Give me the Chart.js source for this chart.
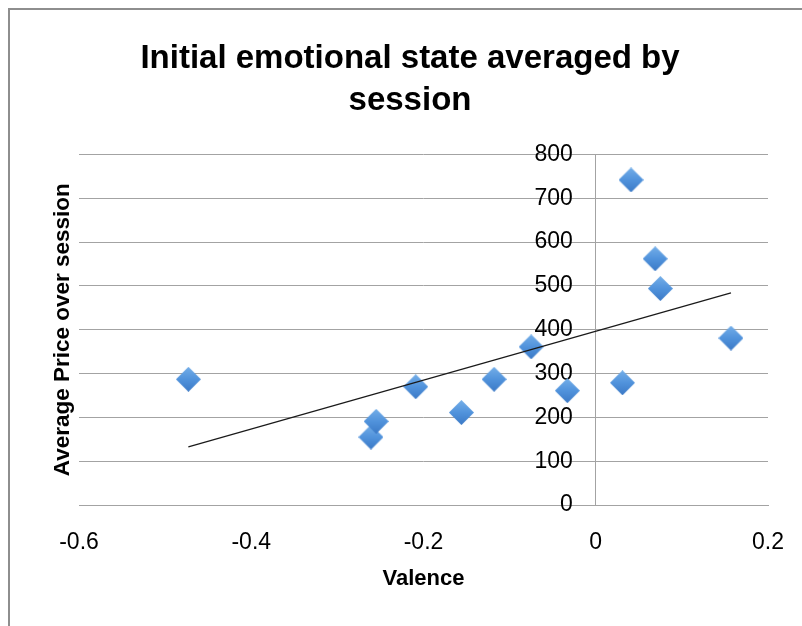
<!DOCTYPE html>
<html>
<head>
<meta charset="utf-8">
<title>Initial emotional state averaged by session</title>
<script src="https://cdn.jsdelivr.net/npm/chart.js@4.4.1/dist/chart.umd.min.js"></script>
<style>
  html, body { margin: 0; padding: 0; background: #fff; overflow: hidden; }
  #wrap { position: relative; width: 802px; height: 626px; }
  #frame {
    position: absolute; left: 8px; top: 8px; width: 900px; height: 700px;
    border-top: 2px solid #8e8e8e; border-left: 2px solid #8e8e8e;
    pointer-events: none;
  }
  canvas { display: block; }
</style>
</head>
<body>
<div id="wrap">
  <canvas id="chart" width="802" height="626"></canvas>
  <div id="frame"></div>
</div>
<script>
// Session averages: initial valence vs. average price over the session
const valence  = [-0.473, -0.261, -0.255, -0.209, -0.156, -0.118, -0.075, -0.033, 0.031, 0.041, 0.069, 0.075, 0.157];
const avgPrice = [287, 155, 191, 270, 211, 287, 361, 261, 279, 742, 562, 494, 381];

// Axis tick values
const valenceTicks = [-0.6, -0.4, -0.2, 0, 0.2];
const priceTicks = [0, 100, 200, 300, 400, 500, 600, 700, 800];

const titleLines = ['Initial emotional state averaged by', 'session'];

// Least-squares linear trend through the session points
function linearFit(xs, ys) {
  const n = xs.length;
  const mx = xs.reduce((a, b) => a + b, 0) / n;
  const my = ys.reduce((a, b) => a + b, 0) / n;
  let sxy = 0, sxx = 0;
  for (let i = 0; i < n; i++) {
    sxy += (xs[i] - mx) * (ys[i] - my);
    sxx += (xs[i] - mx) * (xs[i] - mx);
  }
  const slope = sxy / sxx;
  return { slope, intercept: my - slope * mx };
}
const fit = linearFit(valence, avgPrice);
const xMin = Math.min(...valence), xMax = Math.max(...valence);
const trendPoints = [xMin, xMax].map(x => ({ x, y: fit.intercept + fit.slope * x }));

// Diamond marker with a soft top-to-bottom blue shading
function diamondMarker(size) {
  const c = document.createElement('canvas');
  c.width = size; c.height = size;
  const g = c.getContext('2d');
  const h = size / 2;
  const grad = g.createLinearGradient(0, 0, 0, size);
  grad.addColorStop(0, '#74aee8');
  grad.addColorStop(0.5, '#5193dc');
  grad.addColorStop(1, '#3b79c6');
  g.fillStyle = grad;
  g.beginPath();
  g.moveTo(h, 0);
  g.lineTo(size, h);
  g.lineTo(h, size);
  g.lineTo(0, h);
  g.closePath();
  g.fill();
  return c;
}
const marker = diamondMarker(25);

const tickFont = { family: "'Liberation Sans', Arial, sans-serif", size: 23 };
const gridGray = '#a3a3a3';
const fmt = v => String(Number(Number(v).toFixed(1)));

new Chart(document.getElementById('chart'), {
  data: {
    datasets: [
      {
        type: 'line',
        label: 'Linear trend',
        data: trendPoints,
        borderColor: '#1a1a1a',
        borderWidth: 1.2,
        pointRadius: 0,
        fill: false,
        order: 0
      },
      {
        type: 'scatter',
        label: 'Sessions',
        data: valence.map((x, i) => ({ x, y: avgPrice[i] })),
        pointStyle: marker,
        pointRadius: 12,
        order: 1
      }
    ]
  },
  options: {
    responsive: false,
    devicePixelRatio: 1,
    animation: false,
    events: [],
    layout: { padding: { top: 38, left: 52, right: 34, bottom: 30 } },
    plugins: {
      legend: { display: false },
      tooltip: { enabled: false },
      title: {
        display: true,
        text: titleLines,
        color: '#000',
        font: { family: "'Liberation Sans', Arial, sans-serif", size: 33, weight: 'bold', lineHeight: 1.28 },
        padding: { top: 0, bottom: 32 }
      }
    },
    scales: {
      x: {
        type: 'linear',
        position: 'bottom',
        min: -0.6,
        max: 0.2,
        afterBuildTicks: s => { s.ticks = valenceTicks.map(v => ({ value: v })); },
        // hidden tick marks only reserve the gap between axis line and labels
        grid: { display: false, drawTicks: true, tickLength: 24 },
        border: { display: true, color: gridGray, width: 1 },
        ticks: { color: '#000', font: tickFont, padding: 0, maxRotation: 0, callback: v => fmt(v) },
        title: {
          display: true,
          text: 'Valence',
          color: '#000',
          font: { family: "'Liberation Sans', Arial, sans-serif", size: 22, weight: 'bold' },
          padding: { top: 9, bottom: 4 }
        }
      },
      y: {
        type: 'linear',
        position: { x: 0 },
        min: 0,
        max: 800,
        afterBuildTicks: s => { s.ticks = priceTicks.map(v => ({ value: v })); },
        afterFit: s => { s.width = 0; },
        grid: { color: gridGray, lineWidth: 1, drawTicks: false },
        border: { display: true, color: gridGray, width: 1 },
        // labels sit to the left of the crossing axis, one em clear of it
        ticks: { color: '#000', font: tickFont, callback: v => fmt(v) + '\u2003' }
      },
      yTitle: {
        type: 'linear',
        axis: 'y',
        position: 'left',
        min: 0,
        max: 800,
        grid: { display: false, drawTicks: false },
        border: { display: false },
        ticks: { display: false },
        title: {
          display: true,
          text: 'Average Price over session',
          color: '#000',
          font: { family: "'Liberation Sans', Arial, sans-serif", size: 22.5, weight: 'bold' },
          padding: { top: -3, bottom: 3 }
        }
      }
    }
  }
});
</script>
</body>
</html>
